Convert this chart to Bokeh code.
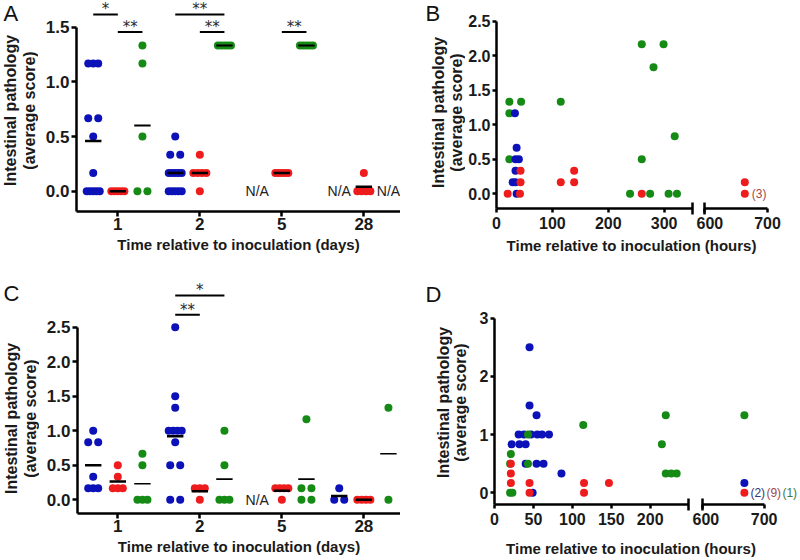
import math
from collections import Counter
from bokeh.plotting import figure
from bokeh.layouts import row, column
from bokeh.models import Range1d, FixedTicker, PrintfTickFormatter, Label
from bokeh.core.properties import value
from bokeh.embed import file_html
from bokeh.resources import INLINE

FONT = "Liberation Sans"
STAR_FONT = "DejaVu Sans"
COL = {"blue": "#0c12b8", "red": "#ee1c1c", "green": "#158a15"}
GROUP_OFFSET = {"blue": -0.3, "red": 0.0, "green": 0.3}
YLABEL_LINES = ["Intestinal pathology", "(average score)"]

# ---------------- Panel A data (days) ----------------
A_days = ["1", "2", "5", "28"]
A_blue = [[1.167, 1.167, 1.167, 0.667, 0.667, 0.5, 0.167, 0, 0, 0, 0, 0],
          [0.5, 0.333, 0.333, 0.167, 0.167, 0.167, 0.167, 0.167, 0, 0, 0, 0, 0],
          [], []]
A_red = [[0, 0, 0, 0, 0],
         [0.333, 0.167, 0.167, 0.167, 0.167, 0],
         [0.167, 0.167, 0.167, 0.167, 0.167],
         [0.167, 0, 0, 0, 0]]
A_green = [[1.333, 1.167, 0.5, 0, 0],
           [1.333, 1.333, 1.333, 1.333, 1.333],
           [1.333, 1.333, 1.333, 1.333, 1.333],
           []]
A_mean_blue = [0.46, 0.167, None, None]
A_mean_red = [0.0, 0.167, 0.167, 0.04]
A_mean_green = [0.6, 1.333, 1.333, None]
A_na_day = ["5", "28", "28"]
A_na_group = ["blue", "blue", "green"]
A_sig_day = ["1", "1", "2", "2", "5"]
A_sig_from = ["blue", "red", "blue", "red", "red"]
A_sig_to = ["red", "green", "green", "green", "green"]
A_sig_y = [1.616, 1.455, 1.616, 1.455, 1.455]
A_sig_text = ["*", "**", "**", "**", "**"]

# ---------------- Panel C data (days) ----------------
C_days = ["1", "2", "5", "28"]
C_blue = [[1.0, 0.833, 0.833, 0.333, 0.167, 0.167, 0.167],
          [2.5, 1.5, 1.333, 1.0, 1.0, 1.0, 1.0, 0.833, 0.5, 0.5, 0, 0],
          [],
          [0.167, 0, 0]]
C_red = [[0.5, 0.333, 0.167, 0.167, 0.167],
         [0.167, 0.167, 0.167, 0],
         [0.167, 0.167, 0.167, 0.167, 0],
         [0, 0, 0, 0]]
C_green = [[0.667, 0.5, 0, 0, 0],
           [1.0, 0.5, 0, 0, 0],
           [1.167, 0.167, 0.167, 0, 0],
           [1.333, 0]]
C_mean_blue = [0.5, 0.92, None, 0.056]
C_mean_red = [0.267, 0.125, 0.133, 0.0]
C_mean_green = [0.233, 0.3, 0.3, 0.667]
C_na_day = ["5"]
C_na_group = ["blue"]
C_sig_day = ["2", "2"]
C_sig_from = ["blue", "blue"]
C_sig_to = ["green", "red"]
C_sig_y = [2.96, 2.68]
C_sig_text = ["*", "**"]

# ---------------- Panel B data (hours) ----------------
B_blue_h = [33, 36, 34, 40, 34, 29, 34, 36]
B_blue_s = [1.167, 0.667, 0.5, 0.5, 0.333, 0.167, 0.167, 0]
B_red_h = [20, 42, 43, 43, 115, 139, 139, 260, 664, 664]
B_red_s = [0, 0, 0.333, 0.167, 0.167, 0.167, 0.333, 0, 0.167, 0]
B_green_h = [23, 44, 23, 23, 115, 239, 260, 260, 299, 281, 319, 275, 308, 323]
B_green_s = [1.333, 1.333, 1.167, 0.5, 1.333, 0, 0.5, 2.167, 2.167, 1.833, 0.833, 0, 0, 0]
B_notes = ["(3)"]
B_note_h = [664]
B_note_s = [0]
B_note_col = ["#a0474a"]

# ---------------- Panel D data (hours) ----------------
D_blue_h = [45, 45, 54, 31, 38, 47, 55, 61, 70, 22, 32, 40, 40, 54, 63, 86, 49, 668]
D_blue_s = [2.5, 1.5, 1.333, 1, 1, 1, 1, 1, 1, 0.833, 0.833, 0.833, 0.5, 0.5, 0.5, 0.333, 0, 0.167]
D_red_h = [21, 21, 21, 45, 115, 147, 45, 115, 668]
D_red_s = [0.5, 0.333, 0.167, 0.167, 0.167, 0.167, 0, 0, 0]
D_green_h = [20, 21, 43, 43, 20, 23, 114, 220, 215, 220, 227, 234, 668]
D_green_s = [0.5, 0.667, 1, 0.5, 0, 0, 1.167, 1.333, 0.833, 0.333, 0.333, 0.333, 1.333]
D_notes = ["(2)", "(9)", "(1)"]
D_note_h = [668, 668, 668]
D_note_s = [0, 0, 0]
D_note_col = ["#34347a", "#a0474a", "#3d7a3d"]


def new_fig(**kw):
    f = figure(toolbar_location=None, output_backend="svg", **kw)
    try:
        f.frame_align = False
    except Exception:
        pass
    f.grid.visible = False
    f.outline_line_color = None
    return f


def strip(width, height):
    return new_fig(width=width, height=height, x_range=Range1d(0, width),
                   y_range=Range1d(0, height), x_axis_location=None, y_axis_location=None,
                   min_border=0)


def yfig(width, letter, letter_x, letter_cy, l1x, l2x, lab_cy):
    f = strip(width, 280)
    f.text(x=[letter_x], y=[280 - letter_cy], text=[letter], text_font=value(FONT),
           text_font_size="22px", text_align="left", text_baseline="middle",
           text_color="#111111")
    f.text(x=[l1x, l2x], y=[280 - lab_cy, 280 - lab_cy], text=YLABEL_LINES,
           angle=math.pi / 2, text_font=value(FONT), text_font_style="bold",
           text_font_size="16px", text_align="center", text_baseline="middle",
           text_color="#1a1a1a")
    return f


def spread_x(vals, center, px_per_unit):
    counts = Counter(vals)
    seen = Counter()
    xs = []
    for v in vals:
        k = counts[v]
        i = seen[v]
        seen[v] += 1
        if k == 1:
            off = 0.0
        else:
            w = min(max(5.0, 2.5 * (k - 1)), 6.5)
            off = -w + 2 * w * i / (k - 1)
        xs.append(center + off / px_per_unit)
    return xs


def style_axis(ax, tick_size, label_size):
    ax.axis_line_width = 2.5
    ax.axis_line_color = "black"
    ax.major_tick_line_width = 2.5
    ax.major_tick_line_color = "black"
    ax.major_tick_in = 0
    ax.major_tick_out = 5
    ax.minor_tick_line_color = None
    ax.major_label_standoff = 2
    ax.major_label_text_font = FONT
    ax.major_label_text_font_style = "bold"
    ax.major_label_text_font_size = f"{tick_size}px"
    ax.major_label_text_color = "#1a1a1a"
    ax.axis_label_standoff = 3
    ax.axis_label_text_font = FONT
    ax.axis_label_text_font_style = "bold"
    ax.axis_label_text_font_size = f"{label_size}px"
    ax.axis_label_text_color = "#1a1a1a"


def dot_panel(days, data, means, mean_lw, na_day, na_group, sig_day, sig_from, sig_to,
              sig_y, sig_text, yf, left, bottom, x_rng, y_rng, y_top, y_ticks, xpx,
              tick_size, label_size):
    p = new_fig(width=400 - yf.width, height=280, x_range=Range1d(*x_rng),
                y_range=Range1d(*y_rng), min_border_left=left, min_border_right=0,
                min_border_top=0, min_border_bottom=bottom)
    pos = {d: i + 1 for i, d in enumerate(days)}
    for g in ["blue", "red", "green"]:
        xs, ys = [], []
        for i, vals in enumerate(data[g]):
            xs += spread_x(vals, i + 1 + GROUP_OFFSET[g], xpx)
            ys += vals
        p.scatter(xs, ys, size=8, fill_color=COL[g], line_color=None)
    for g in ["blue", "red", "green"]:
        x0, x1, yy = [], [], []
        for i, m in enumerate(means[g]):
            if m is None:
                continue
            c = i + 1 + GROUP_OFFSET[g]
            x0.append(c - 0.1)
            x1.append(c + 0.1)
            yy.append(m)
        p.segment(x0=x0, y0=yy, x1=x1, y1=yy, line_color="black", line_width=mean_lw[g])
    nx = [pos[d] + GROUP_OFFSET[g] for d, g in zip(na_day, na_group)]
    p.text(x=nx, y=[0] * len(nx), text=["N/A"] * len(nx), text_font=value(FONT),
           text_font_size="14px", text_align="center", text_baseline="middle",
           text_color="#222222")
    sx0 = [pos[d] + GROUP_OFFSET[a] for d, a in zip(sig_day, sig_from)]
    sx1 = [pos[d] + GROUP_OFFSET[b] for d, b in zip(sig_day, sig_to)]
    p.segment(x0=sx0, y0=sig_y, x1=sx1, y1=sig_y, line_color="black", line_width=2)
    p.text(x=[(a + b) / 2 for a, b in zip(sx0, sx1)], y=sig_y, text=sig_text,
           text_font=value(STAR_FONT), text_font_size="15px", text_align="center",
           text_baseline="middle", y_offset=-5, text_color="#2a2a2a")
    for ax in p.axis:
        style_axis(ax, tick_size, label_size)
    p.xaxis.ticker = FixedTicker(ticks=list(pos.values()))
    p.xaxis.major_label_overrides = {v: k for k, v in pos.items()}
    p.xaxis.major_label_standoff = 1
    p.xaxis.axis_label = "Time relative to inoculation (days)"
    p.yaxis.ticker = FixedTicker(ticks=y_ticks)
    p.yaxis.formatter = PrintfTickFormatter(format="%.1f")
    p.yaxis.bounds = (y_rng[0], y_top)
    return row(yf, p)


def broken_panel(data, order, yf, widths, height, bl, br, bottom, left_end, left_ticks,
                 right_end, y_rng, y_top, y_ticks, y_fmt, notes, note_size,
                 tick_size, label_size, lab_h, lab_xy):
    yr = Range1d(*y_rng)
    pl = new_fig(width=widths[0], height=height, x_range=Range1d(0, left_end), y_range=yr,
                 min_border_left=bl[0], min_border_right=bl[1], min_border_top=0,
                 min_border_bottom=bottom)
    pr = new_fig(width=widths[1], height=height, x_range=Range1d(600, right_end), y_range=yr,
                 y_axis_location=None, min_border_left=br[0], min_border_right=br[1],
                 min_border_top=0, min_border_bottom=bottom)
    for g in order:
        hh, ss = data[g]
        lx = [h for h in hh if h < 500]
        ly = [v for h, v in zip(hh, ss) if h < 500]
        rx = [h for h in hh if h >= 500]
        ry = [v for h, v in zip(hh, ss) if h >= 500]
        pl.scatter(lx, ly, size=8, fill_color=COL[g], line_color=None)
        pr.scatter(rx, ry, size=8, fill_color=COL[g], line_color=None)
    for txt, h, v, c, off in notes:
        pr.add_layout(Label(x=h, y=v, text=txt, text_font=FONT, text_font_size=f"{note_size}px",
                            text_color=c, text_align="left", text_baseline="middle",
                            x_offset=off))
    for ax in list(pl.axis) + list(pr.xaxis):
        style_axis(ax, tick_size, label_size)
    for ax in list(pl.xaxis) + list(pr.xaxis):
        ax.major_tick_out = 4
        ax.minor_tick_line_color = "black"
        ax.minor_tick_line_width = 2.5
        ax.minor_tick_in = 6
        ax.minor_tick_out = 6
    pl.xaxis.ticker = FixedTicker(ticks=left_ticks, minor_ticks=[left_end - 0.6])
    pr.xaxis.ticker = FixedTicker(ticks=[600, 700], minor_ticks=[600.5])
    pr.xaxis.bounds = (600, 700)
    pl.yaxis.ticker = FixedTicker(ticks=y_ticks)
    pl.yaxis.formatter = PrintfTickFormatter(format=y_fmt)
    pl.yaxis.bounds = (y_rng[0], y_top)
    pl.yaxis.major_tick_out = 4
    lab = strip(widths[0] + widths[1], lab_h)
    lab.add_layout(Label(x=lab_xy[0], y=lab_xy[1], text="Time relative to inoculation (hours)",
                         text_font=FONT, text_font_style="bold", text_font_size=f"{label_size}px",
                         text_color="#1a1a1a", text_align="center", text_baseline="middle"))
    return row(yf, column(row(pl, pr), lab))


pA = dot_panel(A_days, {"blue": A_blue, "red": A_red, "green": A_green},
               {"blue": A_mean_blue, "red": A_mean_red, "green": A_mean_green},
               {"blue": 2.5, "red": 2.5, "green": 2},
               A_na_day, A_na_group, A_sig_day, A_sig_from, A_sig_to, A_sig_y, A_sig_text,
               yfig(38, "A", 3, 13, 10, 28.5, 110), 38, 69, (0.496, 4.447), (-0.186, 1.744),
               1.5, [0, 0.5, 1.0, 1.5], 82, 17, 15)

pC = dot_panel(C_days, {"blue": C_blue, "red": C_red, "green": C_green},
               {"blue": C_mean_blue, "red": C_mean_red, "green": C_mean_green},
               {"blue": 2.5, "red": 2.5, "green": 1.6},
               C_na_day, C_na_group, C_sig_day, C_sig_from, C_sig_to, C_sig_y, C_sig_text,
               yfig(39, "C", 3, 13, 11, 29.5, 138), 38, 47, (0.5085, 4.447), (-0.198, 3.176),
               2.5, [0, 0.5, 1.0, 1.5, 2.0, 2.5], 82, 17, 15)

pB = broken_panel({"blue": (B_blue_h, B_blue_s), "red": (B_red_h, B_red_s),
                   "green": (B_green_h, B_green_s)},
                  ["green", "blue", "red"], yfig(65, "B", 25, 13, 38, 56, 112),
                  (231, 104), 236, (31, 4), (8, 0), 28, 350.8,
                  [0, 100, 200, 300], 752.4, (-0.213, 2.8), 2.5,
                  [0, 0.5, 1.0, 1.5, 2.0, 2.5], "%.1f",
                  list(zip(B_notes, B_note_h, B_note_s, B_note_col, [7])), 12,
                  16, 15, 44, (166, 35.5))

pD = broken_panel({"blue": (D_blue_h, D_blue_s), "red": (D_red_h, D_red_s),
                   "green": (D_green_h, D_green_s)},
                  ["blue", "green", "red"], yfig(70, "D", 25, 13.5, 42.5, 60, 122),
                  (222, 108), 252, (24, 4), (10, 0), 28, 249.2,
                  [0, 50, 100, 150, 200], 759.1, (-0.201, 3.648), 3, [0, 1, 2, 3], "%d",
                  list(zip(D_notes, D_note_h, D_note_s, D_note_col, [6, 22, 38])), 12,
                  16, 15, 28, (160.5, 12))

layout = column(row(pA, pB), row(pC, pD))
open("out.html", "w").write(file_html(layout, INLINE))
